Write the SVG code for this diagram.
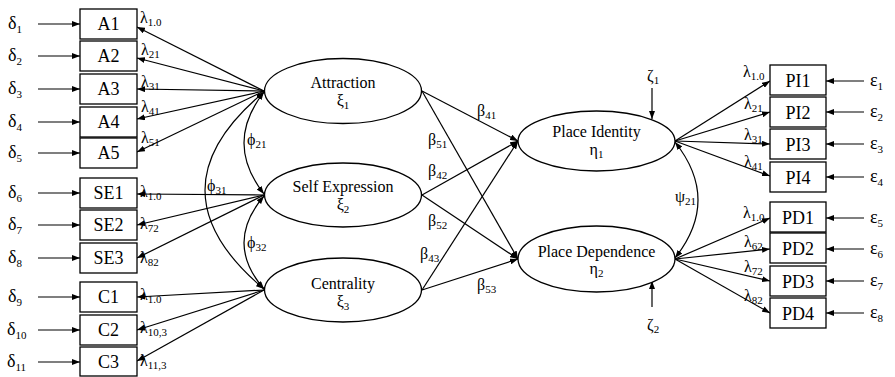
<svg xmlns="http://www.w3.org/2000/svg" width="895" height="377" viewBox="0 0 895 377">
<defs>
<marker id="ah" markerWidth="8" markerHeight="6" refX="8" refY="3" orient="auto" markerUnits="userSpaceOnUse"><path d="M0,0 L8,3 L0,6 z" fill="#000"/></marker>
<marker id="ahs" markerWidth="8" markerHeight="6" refX="0" refY="3" orient="auto" markerUnits="userSpaceOnUse"><path d="M8,0 L0,3 L8,6 z" fill="#000"/></marker>
<style>
text{font-family:"Liberation Serif","DejaVu Serif","Times New Roman",serif;fill:#000}
.box{fill:#fff;stroke:#000;stroke-width:1.3}
.ell{fill:#fff;stroke:#000;stroke-width:1.3}
.bl{font-size:18px;text-anchor:middle}
.el{font-size:16px;text-anchor:middle}
.g{font-size:18px}
.lab{font-size:16px}
.sub{font-size:11px}
.c line,.c path{stroke:#000;stroke-width:1.2;fill:none}
.a{marker-end:url(#ah)}
.d{marker-end:url(#ah);marker-start:url(#ahs)}
</style>
</defs>
<g class="c" id="connectors">
<line class="a" x1="38" y1="24" x2="80" y2="24"/>
<line class="a" x1="38" y1="56" x2="80" y2="56"/>
<line class="a" x1="38" y1="89" x2="80" y2="89"/>
<line class="a" x1="38" y1="122" x2="80" y2="122"/>
<line class="a" x1="38" y1="153" x2="80" y2="153"/>
<line class="a" x1="38" y1="193" x2="80" y2="193"/>
<line class="a" x1="38" y1="225" x2="80" y2="225"/>
<line class="a" x1="38" y1="258" x2="80" y2="258"/>
<line class="a" x1="38" y1="297" x2="80" y2="297"/>
<line class="a" x1="38" y1="330" x2="80" y2="330"/>
<line class="a" x1="38" y1="362" x2="80" y2="362"/>
<line class="a" x1="264" y1="91" x2="137" y2="27"/>
<line class="a" x1="264" y1="91" x2="137" y2="58"/>
<line class="a" x1="264" y1="91" x2="137" y2="89"/>
<line class="a" x1="264" y1="91" x2="137" y2="119"/>
<line class="a" x1="264" y1="91" x2="137" y2="152"/>
<line class="a" x1="264" y1="195" x2="137" y2="194"/>
<line class="a" x1="264" y1="195" x2="137" y2="225"/>
<line class="a" x1="264" y1="195" x2="137" y2="258"/>
<line class="a" x1="264" y1="290" x2="137" y2="297"/>
<line class="a" x1="264" y1="290" x2="137" y2="330"/>
<line class="a" x1="264" y1="290" x2="137" y2="361"/>
<path class="d" d="M264,92 Q224,143 264,194"/>
<path class="d" d="M264,92 Q146,190 264,289"/>
<path class="d" d="M264,196 Q224,243 264,289"/>
<line class="a" x1="422" y1="91" x2="518" y2="141"/>
<line class="a" x1="422" y1="91" x2="518" y2="259"/>
<line class="a" x1="422" y1="195" x2="518" y2="141"/>
<line class="a" x1="422" y1="195" x2="518" y2="259"/>
<line class="a" x1="422" y1="290" x2="518" y2="141"/>
<line class="a" x1="422" y1="290" x2="518" y2="259"/>
<line class="a" x1="652" y1="88" x2="652" y2="119"/>
<line class="a" x1="652" y1="307" x2="652" y2="281"/>
<path class="d" d="M675,142 Q721,200 675,258"/>
<line class="a" x1="675" y1="141" x2="770" y2="81"/>
<line class="a" x1="675" y1="141" x2="770" y2="112"/>
<line class="a" x1="675" y1="141" x2="770" y2="144"/>
<line class="a" x1="675" y1="141" x2="770" y2="176"/>
<line class="a" x1="675" y1="259" x2="770" y2="218"/>
<line class="a" x1="675" y1="259" x2="770" y2="249"/>
<line class="a" x1="675" y1="259" x2="770" y2="281"/>
<line class="a" x1="675" y1="259" x2="770" y2="313"/>
<line class="a" x1="864" y1="81" x2="826" y2="81"/>
<line class="a" x1="864" y1="112" x2="826" y2="112"/>
<line class="a" x1="864" y1="144" x2="826" y2="144"/>
<line class="a" x1="864" y1="177" x2="826" y2="177"/>
<line class="a" x1="864" y1="218" x2="826" y2="218"/>
<line class="a" x1="864" y1="249" x2="826" y2="249"/>
<line class="a" x1="864" y1="281" x2="826" y2="281"/>
<line class="a" x1="864" y1="313" x2="826" y2="313"/>
</g>
<g id="A1"><rect class="box" x="80" y="9" width="57" height="30"/><text class="bl" x="108.5" y="30">A1</text></g>
<g id="A2"><rect class="box" x="80" y="41" width="57" height="30"/><text class="bl" x="108.5" y="62">A2</text></g>
<g id="A3"><rect class="box" x="80" y="74" width="57" height="30"/><text class="bl" x="108.5" y="95">A3</text></g>
<g id="A4"><rect class="box" x="80" y="107" width="57" height="30"/><text class="bl" x="108.5" y="128">A4</text></g>
<g id="A5"><rect class="box" x="80" y="138" width="57" height="30"/><text class="bl" x="108.5" y="159">A5</text></g>
<g id="SE1"><rect class="box" x="80" y="178" width="57" height="30"/><text class="bl" x="108.5" y="199">SE1</text></g>
<g id="SE2"><rect class="box" x="80" y="210" width="57" height="30"/><text class="bl" x="108.5" y="231">SE2</text></g>
<g id="SE3"><rect class="box" x="80" y="243" width="57" height="30"/><text class="bl" x="108.5" y="264">SE3</text></g>
<g id="C1"><rect class="box" x="80" y="282" width="57" height="30"/><text class="bl" x="108.5" y="303">C1</text></g>
<g id="C2"><rect class="box" x="80" y="315" width="57" height="30"/><text class="bl" x="108.5" y="336">C2</text></g>
<g id="C3"><rect class="box" x="80" y="347" width="57" height="29"/><text class="bl" x="108.5" y="368">C3</text></g>
<g id="PI1"><rect class="box" x="770" y="65" width="56" height="30"/><text class="bl" x="798" y="87">PI1</text></g>
<g id="PI2"><rect class="box" x="770" y="97" width="56" height="30"/><text class="bl" x="798" y="119">PI2</text></g>
<g id="PI3"><rect class="box" x="770" y="129" width="56" height="30"/><text class="bl" x="798" y="151">PI3</text></g>
<g id="PI4"><rect class="box" x="770" y="162" width="56" height="30"/><text class="bl" x="798" y="184">PI4</text></g>
<g id="PD1"><rect class="box" x="770" y="202" width="56" height="30"/><text class="bl" x="798" y="224">PD1</text></g>
<g id="PD2"><rect class="box" x="770" y="233" width="56" height="30"/><text class="bl" x="798" y="255">PD2</text></g>
<g id="PD3"><rect class="box" x="770" y="266" width="56" height="30"/><text class="bl" x="798" y="288">PD3</text></g>
<g id="PD4"><rect class="box" x="770" y="298" width="56" height="30"/><text class="bl" x="798" y="320">PD4</text></g>
<g id="attraction"><ellipse class="ell" cx="343" cy="91" rx="78.5" ry="32.5"/><text class="el" x="343" y="88">Attraction</text><text class="el" x="343" y="106">ξ<tspan class="sub" dy="3">1</tspan></text></g>
<g id="selfexpression"><ellipse class="ell" cx="343" cy="195" rx="78.5" ry="32"/><text class="el" x="343" y="192">Self Expression</text><text class="el" x="343" y="210">ξ<tspan class="sub" dy="3">2</tspan></text></g>
<g id="centrality"><ellipse class="ell" cx="343" cy="290" rx="78.5" ry="32"/><text class="el" x="343" y="289">Centrality</text><text class="el" x="343" y="307">ξ<tspan class="sub" dy="3">3</tspan></text></g>
<g id="placeidentity"><ellipse class="ell" cx="596.5" cy="141" rx="78.5" ry="30"/><text class="el" x="596.5" y="137">Place Identity</text><text class="el" x="596.5" y="155">η<tspan class="sub" dy="3">1</tspan></text></g>
<g id="placedependence"><ellipse class="ell" cx="596.5" cy="259" rx="78.5" ry="33"/><text class="el" x="596.5" y="257">Place Dependence</text><text class="el" x="596.5" y="274">η<tspan class="sub" dy="3">2</tspan></text></g>
<g id="deltas" class="g">
<text x="8" y="29">δ<tspan class="sub" dy="4">1</tspan></text>
<text x="8" y="61">δ<tspan class="sub" dy="4">2</tspan></text>
<text x="8" y="94">δ<tspan class="sub" dy="4">3</tspan></text>
<text x="8" y="127">δ<tspan class="sub" dy="4">4</tspan></text>
<text x="8" y="158">δ<tspan class="sub" dy="4">5</tspan></text>
<text x="8" y="198">δ<tspan class="sub" dy="4">6</tspan></text>
<text x="8" y="230">δ<tspan class="sub" dy="4">7</tspan></text>
<text x="8" y="263">δ<tspan class="sub" dy="4">8</tspan></text>
<text x="8" y="302">δ<tspan class="sub" dy="4">9</tspan></text>
<text x="7" y="335">δ<tspan class="sub" dy="4">10</tspan></text>
<text x="7" y="367">δ<tspan class="sub" dy="4">11</tspan></text>
</g>
<g id="epsilons" class="g">
<text x="870" y="86">ε<tspan class="sub" dy="4">1</tspan></text>
<text x="870" y="117">ε<tspan class="sub" dy="4">2</tspan></text>
<text x="870" y="149">ε<tspan class="sub" dy="4">3</tspan></text>
<text x="870" y="182">ε<tspan class="sub" dy="4">4</tspan></text>
<text x="870" y="223">ε<tspan class="sub" dy="4">5</tspan></text>
<text x="870" y="254">ε<tspan class="sub" dy="4">6</tspan></text>
<text x="870" y="286">ε<tspan class="sub" dy="4">7</tspan></text>
<text x="870" y="318">ε<tspan class="sub" dy="4">8</tspan></text>
</g>
<g id="lambdas-left" class="lab">
<text x="140" y="23">λ<tspan class="sub" dy="3">1.0</tspan></text>
<text x="141" y="55">λ<tspan class="sub" dy="3">21</tspan></text>
<text x="141" y="87">λ<tspan class="sub" dy="3">31</tspan></text>
<text x="141" y="112">λ<tspan class="sub" dy="3">41</tspan></text>
<text x="141" y="143">λ<tspan class="sub" dy="3">51</tspan></text>
<text x="140" y="197">λ<tspan class="sub" dy="3">1.0</tspan></text>
<text x="140" y="229">λ<tspan class="sub" dy="3">72</tspan></text>
<text x="140" y="263">λ<tspan class="sub" dy="3">82</tspan></text>
<text x="140" y="300">λ<tspan class="sub" dy="3">1.0</tspan></text>
<text x="140" y="333">λ<tspan class="sub" dy="3">10,3</tspan></text>
<text x="140" y="366">λ<tspan class="sub" dy="3">11,3</tspan></text>
</g>
<g id="lambdas-right" class="lab">
<text x="743" y="77">λ<tspan class="sub" dy="3">1.0</tspan></text>
<text x="744" y="109">λ<tspan class="sub" dy="3">21</tspan></text>
<text x="744" y="140">λ<tspan class="sub" dy="3">31</tspan></text>
<text x="744" y="167">λ<tspan class="sub" dy="3">41</tspan></text>
<text x="743" y="218">λ<tspan class="sub" dy="3">1.0</tspan></text>
<text x="744" y="247">λ<tspan class="sub" dy="3">62</tspan></text>
<text x="744" y="272">λ<tspan class="sub" dy="3">72</tspan></text>
<text x="744" y="301">λ<tspan class="sub" dy="3">82</tspan></text>
</g>
<g id="params" class="lab">
<text x="247" y="145">ϕ<tspan class="sub" dy="3">21</tspan></text>
<text x="207" y="191">ϕ<tspan class="sub" dy="3">31</tspan></text>
<text x="247" y="248">ϕ<tspan class="sub" dy="3">32</tspan></text>
<text x="477" y="116">β<tspan class="sub" dy="3">41</tspan></text>
<text x="428" y="145">β<tspan class="sub" dy="3">51</tspan></text>
<text x="428" y="176">β<tspan class="sub" dy="3">42</tspan></text>
<text x="428" y="226">β<tspan class="sub" dy="3">52</tspan></text>
<text x="420" y="259">β<tspan class="sub" dy="3">43</tspan></text>
<text x="477" y="290">β<tspan class="sub" dy="3">53</tspan></text>
<text x="675" y="202">ψ<tspan class="sub" dy="3">21</tspan></text>
<text x="647" y="81">ζ<tspan class="sub" dy="3">1</tspan></text>
<text x="647" y="330">ζ<tspan class="sub" dy="3">2</tspan></text>
</g>
</svg>
